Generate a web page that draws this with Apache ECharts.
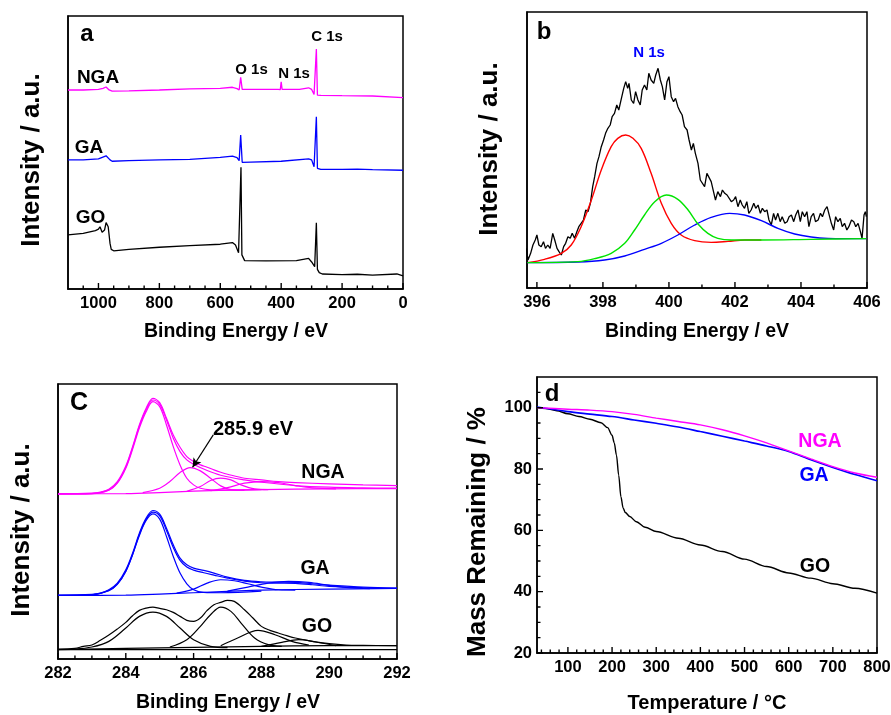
<!DOCTYPE html>
<html><head><meta charset="utf-8">
<script src="https://cdn.jsdelivr.net/npm/echarts@6/dist/echarts.min.js"></script>
<style>html,body{margin:0;padding:0;background:#fff}#c{width:891px;height:715px}</style>
</head><body><div id="c"></div><script>
// ---------- Panel a: XPS survey (binding energy eV, intensity a.u.) ----------
const surveyNGA = [[1100,72.9],[1050,72.9],[1000,73.1],[985,73.5],[975,74.0],[965,72.9],[955,72.5],[900,72.6],[800,72.9],[700,73.3],[600,73.5],[560,73.9],[545,73.4],[538,72.9],[533,77.5],[528,73.1],[500,73.1],[410,73.1],[403,73.0],[400,75.9],[397,73.1],[340,73.1],[310,73.7],[300,73.1],[292,71.3],[287,70.8],[284.5,87.9],[281,71.0],[270,70.9],[200,70.8],[100,70.7],[0,70.1]];
const surveyGA = [[1100,47.3],[1050,47.3],[1000,47.7],[975,48.8],[962,47.3],[955,46.8],[900,47.0],[800,47.3],[700,47.5],[600,48.2],[560,48.7],[545,48.1],[538,47.0],[533,56.4],[528,46.4],[500,46.5],[400,46.8],[310,47.7],[300,47.3],[292,44.8],[287,44.2],[284.5,63.1],[281,44.2],[270,43.8],[200,43.8],[150,43.9],[100,43.7],[0,43.5]];
const surveyGO = [[1100,19.8],[1050,20.4],[1010,21.4],[1000,21.9],[995,22.8],[988,20.8],[980,21.6],[975,24.3],[968,22.8],[962,16.7],[958,14.5],[950,14.0],[900,14.5],[800,15.3],[700,15.9],[600,16.4],[560,17.0],[550,16.1],[540,13.3],[535,13.1],[532,44.6],[529,12.5],[525,12.8],[520,10.4],[450,10.3],[350,10.4],[310,11.2],[300,9.9],[290,8.2],[286,8.8],[284.5,24.3],[281,7.2],[275,6.0],[265,5.5],[200,5.3],[150,5.4],[100,5.1],[20,5.5],[0,4.8]];
const aTicks = [0,200,400,600,800,1000];
const aMinor = [50,100,150,250,300,350,450,500,550,650,700,750,850,900,950,1050];

// ---------- Panel b: N 1s high resolution ----------
const bEnergy = [395.68,395.73,395.81,395.88,395.95,396.00,396.06,396.13,396.20,396.26,396.33,396.40,396.48,396.54,396.61,396.67,396.74,396.81,396.87,396.94,397.01,397.07,397.14,397.21,397.27,397.34,397.41,397.48,397.55,397.62,397.69,397.75,397.82,397.88,397.95,398.02,398.08,398.15,398.22,398.28,398.35,398.42,398.48,398.56,398.63,398.69,398.75,398.79,398.86,398.93,398.99,399.06,399.13,399.19,399.26,399.33,399.39,399.46,399.54,399.60,399.67,399.74,399.80,399.87,399.94,400.00,400.07,400.14,400.20,400.27,400.34,400.40,400.47,400.55,400.61,400.68,400.74,400.80,400.88,400.95,401.01,401.08,401.15,401.21,401.28,401.35,401.41,401.48,401.56,401.62,401.69,401.76,401.82,401.89,401.96,402.02,402.09,402.16,402.22,402.29,402.36,402.42,402.49,402.57,402.63,402.70,402.77,402.83,402.90,402.97,403.03,403.10,403.17,403.23,403.30,403.37,403.43,403.51,403.58,403.64,403.71,403.78,403.84,403.91,403.98,404.04,404.11,404.18,404.24,404.31,404.38,404.44,404.52,404.59,404.65,404.72,404.79,404.85,404.92,404.99,405.05,405.12,405.19,405.25,405.32,405.39,405.45,405.53,405.60,405.66,405.73,405.80,405.85,405.91,405.95,405.98];
const bCounts = [119,84,104,129,144,159,129,124,139,119,129,119,164,144,119,109,99,124,134,154,149,164,149,169,184,194,204,234,229,254,304,334,374,394,424,444,464,479,489,514,524,549,534,569,599,619,599,614,564,554,589,564,549,594,609,594,644,624,614,639,659,624,604,564,619,634,574,559,569,544,529,519,484,474,444,414,434,404,374,324,319,304,344,349,319,289,264,289,274,294,284,279,274,259,264,274,244,264,249,239,259,224,234,254,239,249,224,239,229,234,204,189,224,204,224,199,214,194,199,214,219,199,219,234,199,229,214,229,184,214,224,199,204,224,214,234,244,239,194,174,214,199,209,184,194,174,184,204,199,184,194,169,149,219,229,214];
const bRed = [[395.71,76],[396.23,86],[396.74,104],[397.04,129],[397.34,184],[397.65,264],[397.95,354],[398.25,424],[398.45,449],[398.69,459],[398.91,449],[399.16,419],[399.46,344],[399.77,254],[400.07,194],[400.37,159],[400.78,142],[401.28,137],[401.79,140],[402.3,144],[402.8,144]];
const bGreen = [[395.71,76],[397.24,79],[397.75,88],[398.25,104],[398.66,134],[398.96,174],[399.26,219],[399.57,259],[399.92,279],[400.27,266],[400.58,234],[400.88,192],[401.18,164],[401.48,149],[401.89,144],[402.80,144],[404.31,146],[405.98,148]];
const bBlue = [[395.71,76],[397.24,78],[398.05,84],[398.66,96],[399.26,116],[399.77,134],[400.27,159],[400.78,189],[401.28,212],[401.84,224],[402.29,219],[402.80,202],[403.30,179],[403.81,162],[404.31,153],[404.82,149],[405.98,148]];
const bTicks = [396,398,400,402,404,406];
const bMinor = [397,399,401,403,405];

// ---------- Panel c: C 1s high resolution ----------
const cNGAraw = [[282,496],[283,498],[283.25,501],[283.5,510],[283.75,533],[284,580],[284.2,638],[284.4,703],[284.6,753],[284.8,783],[285,770],[285.2,723],[285.4,673],[285.6,636],[285.8,608],[286,593],[286.2,583],[286.4,576],[286.6,568],[286.8,561],[287,555],[287.5,543],[288,538],[288.5,533],[289,530],[290,526],[291,523],[292,521]];
const cNGAfit = [[282,496],[283,497],[283.5,508],[283.75,530],[284,576],[284.2,634],[284.4,699],[284.6,749],[284.8,778],[285,765],[285.2,718],[285.4,663],[285.6,623],[285.8,598],[286,585],[286.4,566],[286.8,552],[287.5,538],[288,531],[289,521],[290,516],[291,514],[292,513]];
const cNGAc1 = [[282,496],[283,497],[283.5,507],[283.75,528],[284,573],[284.2,630],[284.4,694],[284.6,743],[284.8,773],[285,758],[285.2,703],[285.4,638],[285.6,583],[285.8,543],[286,523],[286.2,513],[286.5,508],[287,507],[288,509]];
const cNGAc2 = [[284.5,500],[285,513],[285.3,533],[285.6,560],[285.9,575],[286.2,565],[286.5,543],[286.8,520],[287.1,509],[287.5,507]];
const cNGAc3 = [[285.8,504],[286.2,518],[286.5,536],[286.8,543],[287.1,538],[287.4,523],[287.8,511],[288.2,509]];
const cNGAc4 = [[286.5,506],[287,515],[287.5,528],[288,533],[288.5,530],[289,521],[289.5,514],[290.2,511]];
const cNGAbase = [[282,496],[284,497],[285,500],[286,504],[287,507],[288,509],[290,511],[292,512]];
const cGAraw = [[282,191],[283,194],[283.25,198],[283.5,208],[283.75,228],[284,268],[284.2,318],[284.4,378],[284.6,423],[284.8,446],[285,435],[285.2,393],[285.4,343],[285.6,303],[285.8,283],[286,273],[286.3,266],[286.6,258],[287,246],[287.5,236],[288,232],[288.5,231],[289,230],[289.5,226],[290,222],[291,216],[292,213]];
const cGAfit = [[282,191],[283,193],[283.5,206],[283.75,225],[284,264],[284.2,314],[284.4,374],[284.6,419],[284.8,441],[285,430],[285.2,386],[285.4,335],[285.6,296],[285.8,276],[286,267],[286.3,259],[286.6,252],[287,243],[287.5,234],[288,229],[288.5,228],[289,227],[289.5,223],[290,218],[291,214],[292,212]];
const cGAc1 = [[282,191],[283,193],[283.5,205],[283.75,224],[284,263],[284.2,313],[284.4,371],[284.6,416],[284.8,436],[285,420],[285.2,368],[285.4,308],[285.6,258],[285.8,226],[286,208],[286.3,200],[286.8,199],[288,204]];
const cGAc2 = [[285.5,198],[286,210],[286.4,228],[286.8,238],[287.2,235],[287.6,226],[288,216],[288.5,208],[289,207]];
const cGAc3 = [[287,204],[287.6,216],[288.2,228],[288.8,233],[289.4,230],[290,221],[290.6,214],[291.2,211]];
const cGAbase = [[282,191],[284,192],[285,195],[286,199],[287,203],[288,207],[290,210],[292,212]];
const cGOraw = [[282,30],[282.5,32],[282.75,38],[283,42],[283.25,56],[283.5,72],[283.75,90],[284,110],[284.2,130],[284.4,146],[284.6,153],[284.8,156],[285,152],[285.2,148],[285.4,140],[285.6,128],[285.8,116],[286,113],[286.2,123],[286.4,146],[286.6,163],[286.8,170],[287,176],[287.2,173],[287.5,148],[287.75,123],[288,98],[288.25,86],[288.5,78],[288.75,70],[289,63],[289.5,53],[290,46],[290.5,42],[291,41],[292,40]];
const cGOc1 = [[282.5,30],[283,36],[283.5,53],[284,93],[284.4,128],[284.8,141],[285.2,128],[285.6,93],[286,58],[286.5,38],[287,34]];
const cGOc2 = [[285.3,36],[285.8,58],[286.2,98],[286.5,133],[286.8,156],[287.1,143],[287.4,108],[287.8,63],[288.2,43],[288.6,38]];
const cGOc3 = [[286.8,40],[287.3,63],[287.9,86],[288.4,73],[288.9,53],[289.4,42]];
const cGOc4 = [[288,38],[288.6,50],[289.1,58],[289.6,51],[290.2,40]];
const cGObase = [[282,28],[284,32],[286,35],[288,38],[290,40],[292,40]];
const cGOflat = [[282,28],[292,28]];
const cTicks = [282,284,286,288,290,292];
const cMinor = [282.5,283,283.5,284.5,285,285.5,286.5,287,287.5,288.5,289,289.5,290.5,291,291.5];

// ---------- Panel d: TGA ----------
const tgaT_GO = [30,50,75,100,125,150,175,190,200,205,210,215,220,225,230,240,255,275,300,350,400,450,500,550,600,650,700,750,800];
const tgaGO = [100,99.7,99.0,98.0,97.1,96.2,95.1,93.5,91.0,88.5,84.5,78.0,71.0,67.3,65.8,64.5,62.8,61.0,59.6,57.4,55.2,53.1,50.6,48.2,46.1,44.4,42.6,41.1,39.5];
const tgaT = [30,100,150,200,250,300,350,400,450,500,550,600,650,700,750,800];
const tgaNGA = [100,99.5,99.2,98.7,97.8,96.6,95.5,94.4,92.8,90.8,88.5,85.9,83.3,80.8,78.7,77.3];
const tgaGA = [100.2,98.7,97.9,97.1,96.0,94.9,93.7,92.2,90.7,89.1,87.5,85.7,83.0,80.5,78.2,76.2];
const dXTicks = [100,200,300,400,500,600,700,800];
const dXMinor = [40,60,80,120,140,160,180,220,240,260,280,320,340,360,380,420,440,460,480,520,540,560,580,620,640,660,680,720,740,760,780];
const dYTicks = [20,40,60,80,100];
const dYMinor = [25,30,35,45,50,55,65,70,75,85,90,95,105];

// ---------- build ----------
const FONT = '"Liberation Sans", Arial, Helvetica, sans-serif';
const MAG = '#ff00ff', BLU = '#0000ff', BLK = '#000000', RED = '#ff0000', GRN = '#00e400';

const GRID = [
  { left: 68, top: 16, width: 335, height: 273 },
  { left: 527, top: 12, width: 340, height: 276 },
  { left: 58, top: 384, width: 339, height: 275 },
  { left: 537, top: 377, width: 340, height: 276 }
];
const XR = [[0, 1100], [395.7, 406], [282, 292], [30, 800]];
const YR = [[0, 100], [0, 828], [0, 826], [20, 110]];
const XINV = [true, false, false, false];

function mainX(gi, ticks) {
  return { type: 'value', gridIndex: gi, min: XR[gi][0], max: XR[gi][1], inverse: XINV[gi], position: 'bottom',
    axisLine: { show: true, onZero: false, lineStyle: { color: '#000', width: 1.5 } },
    axisTick: { show: false },
    axisLabel: { show: true, customValues: ticks, color: '#000', fontSize: 16.5, fontWeight: 'bold', fontFamily: FONT, margin: 6,
      formatter: function (v) { return String(v); } },
    splitLine: { show: false } };
}
function plainY(gi) {
  return { type: 'value', gridIndex: gi, min: YR[gi][0], max: YR[gi][1], position: 'left',
    axisLine: { show: true, onZero: false, lineStyle: { color: '#000', width: 1.5 } },
    axisTick: { show: false }, axisLabel: { show: false }, splitLine: { show: false } };
}
function line(gi, data, color, w, extra) {
  return Object.assign({ type: 'line', xAxisIndex: gi, yAxisIndex: gi, data: data, showSymbol: false, symbol: 'none',
    silent: true, animation: false, z: 3, lineStyle: { color: color, width: w || 1.3 } }, extra || {});
}
// inward tick marks drawn as a broken line series: a short segment per tick value, anchored on the axis
function tickLine(gi, groups) {
  const data = [];
  groups.forEach(function (gp) {
    const values = gp[0], dir = gp[1], len = gp[2];
    values.forEach(function (v) {
      if (dir === 'x') {
        const b = YR[gi][0], d = len * (YR[gi][1] - YR[gi][0]) / GRID[gi].height;
        data.push([v, b], [v, b + d], [v, '-']);
      } else {
        const b = XR[gi][0], d = len * (XR[gi][1] - XR[gi][0]) / GRID[gi].width;
        data.push([b, v], [b + d, v], ['-', v]);
      }
    });
  });
  return { type: 'line', xAxisIndex: gi, yAxisIndex: gi, data: data, showSymbol: false, symbol: 'none',
    connectNulls: false, clip: false, silent: true, animation: false, z: 8,
    lineStyle: { color: '#000', width: 1.4, cap: 'butt' } };
}
function txt(x, y, s, size, color, rot) {
  return { type: 'text', x: x, y: y, rotation: rot || 0, silent: true, z: 100,
    style: { text: s, fill: color || '#000', font: 'bold ' + size + 'px ' + FONT,
      align: 'center', verticalAlign: 'middle', textAlign: 'center', textVerticalAlign: 'middle' } };
}
const SM = { smooth: 0.35 };

const grids = GRID.map(g => Object.assign({}, g, { show: true, borderColor: '#000', borderWidth: 1.5, backgroundColor: 'transparent', containLabel: false, outerBoundsMode: 'none' }));

const dY = {
  type: 'value', gridIndex: 3, min: YR[3][0], max: YR[3][1], position: 'left',
  axisLine: { show: true, onZero: false, lineStyle: { color: '#000', width: 1.5 } },
  axisTick: { show: false },
  axisLabel: { show: true, customValues: dYTicks, color: '#000', fontSize: 16.5, fontWeight: 'bold', fontFamily: FONT, margin: 5,
    formatter: function (v) { return String(v); } },
  splitLine: { show: false } };

const zip = (xs, ys) => xs.map((x, i) => [x, ys[i]]);

const series = [
  // a
  line(0, surveyNGA, MAG, 1.3), line(0, surveyGA, BLU, 1.3), line(0, surveyGO, BLK, 1.3),
  tickLine(0, [[aTicks, 'x', 6], [aMinor, 'x', 3.5]]),
  // b
  line(1, zip(bEnergy, bCounts), BLK, 1.3),
  line(1, bRed, RED, 1.4, SM), line(1, bBlue, BLU, 1.4, SM), line(1, bGreen, GRN, 1.4, SM),
  tickLine(1, [[bTicks, 'x', 6], [bMinor, 'x', 3.5]]),
  // c NGA
  line(2, cNGAbase, MAG, 1.2, SM), line(2, cNGAc4, MAG, 1.2, SM), line(2, cNGAc3, MAG, 1.2, SM),
  line(2, cNGAc2, MAG, 1.2, Object.assign({
    markLine: { silent: true, symbol: ['none', 'arrow'], symbolSize: [7, 9], animation: false,
      lineStyle: { color: '#000', width: 1.2, type: 'solid' }, label: { show: false },
      data: [[{ coord: [286.58, 673] }, { coord: [285.97, 576] }]] } }, SM)),
  line(2, cNGAc1, MAG, 1.2, SM), line(2, cNGAfit, MAG, 1.2, SM), line(2, cNGAraw, MAG, 1.2, SM),
  // c GA
  line(2, cGAbase, BLU, 1.2, SM), line(2, cGAc3, BLU, 1.2, SM), line(2, cGAc2, BLU, 1.2, SM),
  line(2, cGAc1, BLU, 1.2, SM), line(2, cGAfit, BLU, 1.2, SM), line(2, cGAraw, BLU, 1.2, SM),
  // c GO
  line(2, cGOflat, BLK, 1.2), line(2, cGObase, BLK, 1.2, SM), line(2, cGOc4, BLK, 1.2, SM),
  line(2, cGOc3, BLK, 1.2, SM), line(2, cGOc2, BLK, 1.2, SM), line(2, cGOc1, BLK, 1.2, SM),
  line(2, cGOraw, BLK, 1.2, SM),
  tickLine(2, [[cTicks, 'x', 6], [cMinor, 'x', 3.5]]),
  // d
  line(3, zip(tgaT_GO, tgaGO), BLK, 1.4, { smooth: 0.3, smoothMonotone: 'x' }),
  line(3, zip(tgaT, tgaGA), BLU, 1.6, { smooth: 0.3 }),
  line(3, zip(tgaT, tgaNGA), MAG, 1.4, { smooth: 0.3 }),
  tickLine(3, [[dXTicks, 'x', 6], [dXMinor, 'x', 3.5], [dYTicks, 'y', 6], [dYMinor, 'y', 3.5]])
];

const texts = [
  // a
  txt(87, 34, 'a', 24), txt(98, 78, 'NGA', 19), txt(89, 148, 'GA', 19), txt(90.5, 218, 'GO', 19),
  txt(251.5, 70, 'O 1s', 15), txt(294, 74, 'N 1s', 15), txt(327, 37, 'C 1s', 15),
  txt(236, 332, 'Binding Energy / eV', 19.5), txt(32, 160, 'Intensity / a.u.', 26, '#000', Math.PI / 2),
  // b
  txt(544, 32, 'b', 24), txt(649, 53, 'N 1s', 15, BLU),
  txt(697, 332, 'Binding Energy / eV', 19.5), txt(490, 149, 'Intensity / a.u.', 26, '#000', Math.PI / 2),
  // c
  txt(79, 403, 'C', 25), txt(253, 429, '285.9 eV', 20), txt(323, 473, 'NGA', 19.5), txt(315, 569, 'GA', 19.5), txt(317, 627, 'GO', 19.5),
  txt(228, 703, 'Binding Energy / eV', 19.5), txt(22, 530, 'Intensity / a.u.', 26, '#000', Math.PI / 2),
  // d
  txt(552, 394, 'd', 24), txt(820, 442, 'NGA', 19.5, MAG), txt(814, 476, 'GA', 19.5, BLU), txt(815, 567, 'GO', 19.5),
  txt(707, 703, 'Temperature / °C', 20), txt(478, 532, 'Mass Remaining / %', 26, '#000', Math.PI / 2)
];

const chart = echarts.init(document.getElementById('c'), null, { renderer: 'canvas' });
chart.setOption({
  backgroundColor: '#ffffff',
  animation: false,
  grid: grids,
  xAxis: [mainX(0, aTicks), mainX(1, bTicks), mainX(2, cTicks), mainX(3, dXTicks)],
  yAxis: [plainY(0), plainY(1), plainY(2), dY],
  series: series,
  graphic: { elements: texts }
});
</script></body></html>
